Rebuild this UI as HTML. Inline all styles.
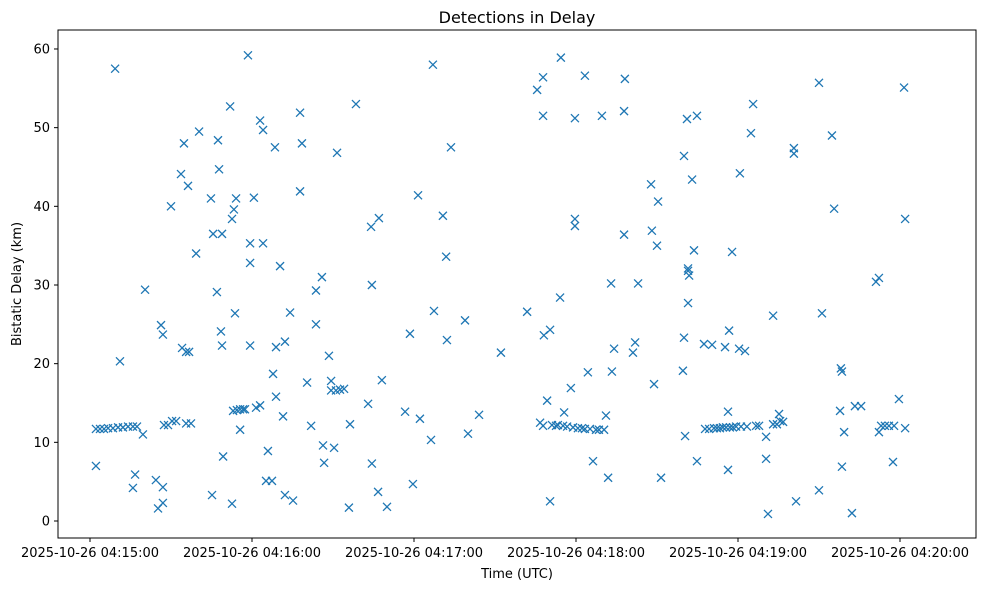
<!DOCTYPE html>
<html><head><meta charset="utf-8"><style>
body{margin:0;background:#fff;font-family:"Liberation Sans","DejaVu Sans",sans-serif}
svg text{font-family:"DejaVu Sans","Liberation Sans",sans-serif;fill:#000}
</style></head><body>
<svg id="chart" width="984" height="590" viewBox="0 0 984 590">
<rect width="984" height="590" fill="#fff"/>
<text x="517" y="23" text-anchor="middle" font-size="16">Detections in Delay</text>
<text x="517" y="578" text-anchor="middle" font-size="13">Time (UTC)</text>
<text transform="translate(21,284) rotate(-90)" text-anchor="middle" font-size="13">Bistatic Delay (km)</text>
<g id="axes"></g><g id="marks"></g>
<rect x="58" y="30" width="918" height="508" fill="none" stroke="#000" stroke-width="1"/>
</svg>
<script>
// time in seconds after 2025-10-26 04:15:00 UTC
const times=[2.2,3.7,5.2,6.7,8.5,10.4,12.2,14.1,15.9,17.4,2.2,9.3,11.1,15.9,16.7,19.6,20.4,24.4,25.2,26.3,27.0,27.0,27.0,27.4,28.9,30.4,31.9,30.0,33.7,34.8,34.1,35.6,36.7,36.3,35.6,37.4,39.3,40.4,44.8,45.2,45.6,47.0,47.4,47.8,48.9,48.5,48.9,49.3,51.9,52.6,52.6,53.3,54.1,53.7,53.0,54.4,55.6,55.6,56.7,57.4,58.5,59.3,59.3,59.3,60.7,61.5,63.0,63.0,64.1,64.1,65.2,65.9,67.4,67.8,68.5,68.9,68.9,70.4,71.5,72.2,72.2,74.1,75.2,77.8,77.8,78.5,80.4,81.9,83.7,83.7,85.9,86.3,86.7,88.5,89.3,89.3,91.1,91.5,92.6,94.1,90.4,95.9,96.3,98.5,103.0,104.1,104.4,104.4,106.7,107.0,108.1,110.0,116.7,118.5,119.6,121.5,122.2,126.3,127.0,127.4,130.7,131.9,132.2,133.7,138.9,140.0,144.1,152.2,161.9,165.6,166.7,167.8,167.8,167.8,168.1,169.3,170.4,170.4,171.1,172.6,173.3,174.1,174.4,175.2,175.6,176.7,178.1,178.9,179.6,179.6,179.6,180.7,182.2,183.3,183.3,184.4,185.2,186.3,187.4,188.5,189.6,190.4,191.1,191.9,193.0,193.3,194.1,197.8,198.1,197.8,201.1,201.9,203.0,207.8,208.1,208.9,210.0,210.4,211.5,219.6,220.0,220.0,220.4,221.1,221.5,221.5,221.9,221.5,223.0,223.7,224.8,224.8,227.4,227.8,229.3,230.4,231.1,232.2,233.3,234.4,235.2,235.6,236.3,236.7,236.3,237.0,237.8,238.1,239.3,240.4,240.7,241.1,242.6,243.3,244.8,245.6,246.7,247.8,250.4,250.4,251.1,253.0,253.0,254.4,255.2,255.6,256.7,260.7,260.7,261.5,270.0,270.0,271.1,274.8,275.6,277.8,278.1,278.5,278.5,279.3,282.2,283.3,285.6,291.1,292.2,292.2,293.0,294.4,295.9,297.4,297.8,299.6,301.5,301.9,301.9];
const delays=[11.7,11.7,11.7,11.8,11.8,11.9,11.9,12.0,12.0,12.0,7.0,57.5,20.3,4.2,5.9,11.0,29.4,5.2,1.6,24.9,23.7,4.3,2.3,12.2,12.2,12.7,12.7,40.0,44.1,48.0,22.0,21.5,21.5,42.6,12.4,12.4,34.0,49.5,41.0,3.3,36.5,29.1,48.4,44.7,36.5,24.1,22.3,8.2,52.7,2.2,38.4,39.6,41.0,26.4,14.0,14.1,11.6,14.2,14.2,14.2,59.2,35.3,32.8,22.3,41.1,14.4,50.9,14.7,49.7,35.3,5.1,8.9,5.1,18.7,47.5,22.1,15.8,32.4,13.3,3.3,22.8,26.5,2.6,51.9,41.9,48.0,17.6,12.1,25.0,29.3,31.0,9.6,7.4,21.0,17.8,16.6,16.6,46.8,16.7,16.8,9.3,1.7,12.3,53.0,14.9,37.4,30.0,7.3,3.7,38.5,17.9,1.8,13.9,23.8,4.7,41.4,13.0,10.3,58.0,26.7,38.8,33.6,23.0,47.5,25.5,11.1,13.5,21.4,26.6,54.8,12.5,56.4,12.1,51.5,23.6,15.3,24.3,2.5,12.2,12.1,12.2,28.4,58.9,12.1,13.8,12.0,16.9,11.9,51.2,38.4,37.5,11.8,11.8,11.7,56.6,18.9,11.7,7.6,11.6,11.6,51.5,11.6,13.4,5.5,30.2,19.0,21.9,52.1,56.2,36.4,21.4,22.7,30.2,42.8,36.9,17.4,35.0,40.6,5.5,19.1,46.4,23.3,10.8,51.1,27.7,32.1,31.2,31.8,43.4,34.4,51.5,7.6,22.5,11.7,11.7,22.4,11.8,11.8,11.8,11.9,22.1,11.9,13.9,24.2,6.5,11.9,34.2,11.9,12.0,21.9,44.2,12.0,21.6,12.0,49.3,53.0,12.1,12.1,7.9,10.7,0.9,26.1,12.3,12.3,13.6,12.7,12.6,47.4,46.7,2.5,55.7,3.9,26.4,49.0,39.7,14.0,19.4,19.0,6.9,11.3,1.0,14.6,14.6,30.4,30.9,11.3,12.1,12.1,12.1,7.5,12.1,15.5,55.1,11.8,38.4];
const yTicks=[0,10,20,30,40,50,60];
const xTicks=[0,60,120,180,240,300];
const xTickLabels=["2025-10-26 04:15:00","2025-10-26 04:16:00","2025-10-26 04:17:00","2025-10-26 04:18:00","2025-10-26 04:19:00","2025-10-26 04:20:00"];
const NS="http://www.w3.org/2000/svg";
function xs(s){return 90+s*2.7;}
function ys(v){return 521-v*7.867;}
function mk(tag,attrs,parent){const e=document.createElementNS(NS,tag);for(const k in attrs)e.setAttribute(k,attrs[k]);parent.appendChild(e);return e;}
const axes=document.getElementById('axes');
yTicks.forEach(v=>{
  const y=ys(v);
  const t=mk('line',{x1:54,x2:58,y1:y,y2:y,stroke:'#000'},axes);
  
  
  const l=mk('text',{x:50,y:y+4.5,'text-anchor':'end','font-size':'13'},axes);
  l.textContent=v;
  
  
});
xTicks.forEach((s,i)=>{
  const x=xs(s);
  const t=mk('line',{x1:x,x2:x,y1:538,y2:542,stroke:'#000'},axes);
  
  
  const l=mk('text',{x:x,y:557,'text-anchor':'middle','font-size':'13'},axes);
  l.textContent=xTickLabels[i];
  
  
});
const marks=document.getElementById('marks');
times.forEach((s,i)=>{
  const x=xs(s),y=ys(delays[i]),r=4;
  const p=mk('path',{d:`M${x-r},${y-r}L${x+r},${y+r}M${x-r},${y+r}L${x+r},${y-r}`,stroke:'#1f77b4','stroke-width':'1.3',fill:'none'},marks);
  
  
});
</script>
</body></html>
